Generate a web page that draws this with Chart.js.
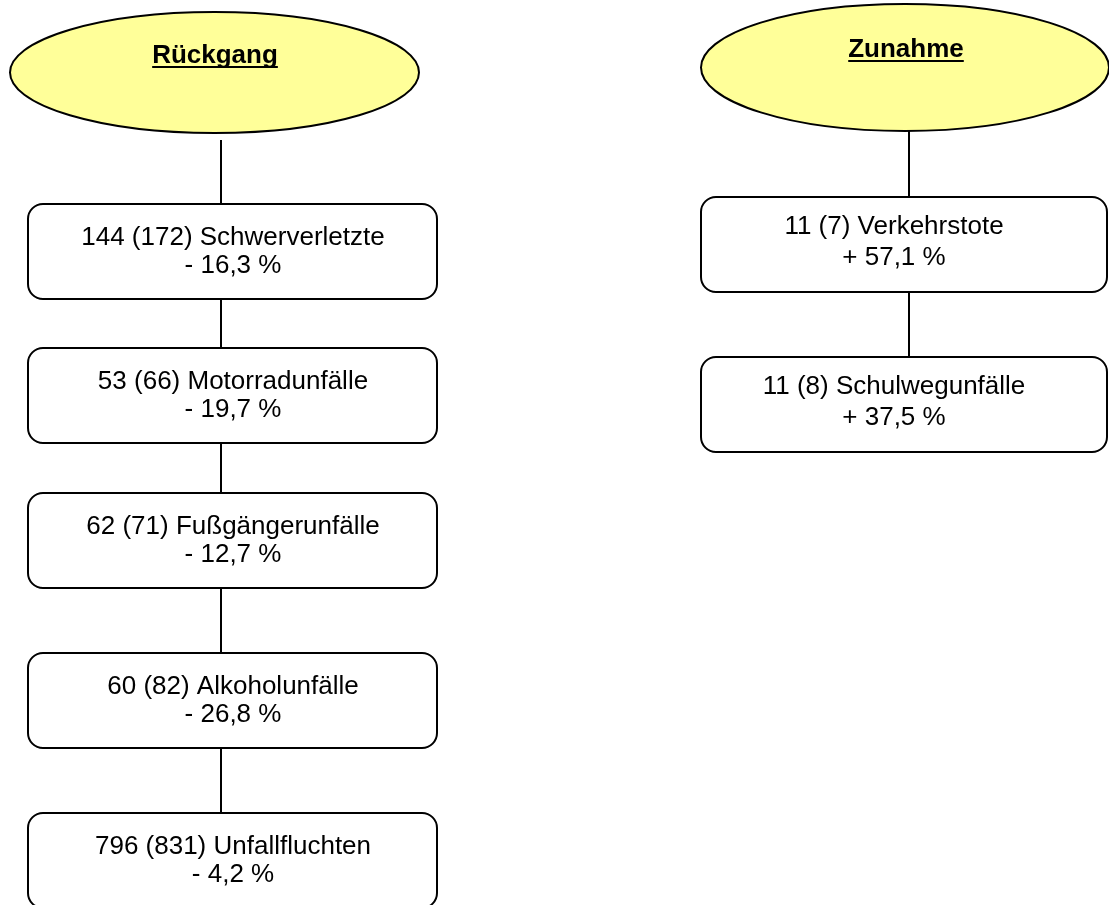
<!DOCTYPE html>
<html>
<head>
<meta charset="utf-8">
<script src="https://cdn.jsdelivr.net/npm/chart.js@4/dist/chart.umd.min.js"></script>
<style>
  html, body { margin: 0; padding: 0; background: #fff; }
  #wrap { width: 1109px; height: 905px; position: relative; }
</style>
</head>
<body>
<div id="wrap"><canvas id="flowChart"></canvas></div>
<script>
// values
const leftTitle = 'Rückgang';
const rightTitle = 'Zunahme';
const leftLabels = ['Schwerverletzte', 'Motorradunfälle', 'Fußgängerunfälle', 'Alkoholunfälle', 'Unfallfluchten'];
const leftCurrent = [144, 53, 62, 60, 796];
const leftPrevious = [172, 66, 71, 82, 831];
const leftChange = ['- 16,3 %', '- 19,7 %', '- 12,7 %', '- 26,8 %', '- 4,2 %'];
const rightLabels = ['Verkehrstote', 'Schulwegunfälle'];
const rightCurrent = [11, 11];
const rightPrevious = [7, 8];
const rightChange = ['+ 57,1 %', '+ 37,5 %'];

// layout (in the 1109 x 905 coordinate space of the hidden scales)
const columns = [
    {
        title: leftTitle, labels: leftLabels, current: leftCurrent, previous: leftPrevious, change: leftChange,
        ellipse: { cx: 214.5, cy: 72.5, rx: 204.5, ry: 60.5 }, titleX: 215, titleBase: 63,
        lineX: 221, lineStart: 140, boxLeft: 28, boxRight: 437, boxTops: [204, 348, 493, 653, 813], boxH: 95,
        textX: 233, line1: 41, line2: 69
    },
    {
        title: rightTitle, labels: rightLabels, current: rightCurrent, previous: rightPrevious, change: rightChange,
        ellipse: { cx: 905, cy: 67.5, rx: 204, ry: 63.5 }, titleX: 906, titleBase: 57,
        lineX: 909, lineStart: 131, boxLeft: 701, boxRight: 1107, boxTops: [197, 357], boxH: 95,
        textX: 894, line1: 37, line2: 68
    }
];

const FONT = '"Liberation Sans", Arial, sans-serif';

// connector segments as line datasets
const connectors = [];
columns.forEach(col => {
    let from = col.lineStart;
    col.boxTops.forEach(top => {
        connectors.push({
            type: 'line',
            data: [{ x: col.lineX, y: from }, { x: col.lineX, y: top }],
            borderColor: '#000',
            borderWidth: 2,
            pointRadius: 0,
            showLine: true
        });
        from = top + col.boxH;
    });
});

const nodesPlugin = {
    id: 'nodes',
    afterDatasetsDraw(chart) {
        const ctx = chart.ctx;
        const xs = chart.scales.x, ys = chart.scales.y;
        const px = v => xs.getPixelForValue(v);
        const py = v => ys.getPixelForValue(v);
        ctx.save();
        columns.forEach(col => {
            // title ellipse
            const e = col.ellipse;
            ctx.beginPath();
            ctx.ellipse(px(e.cx), py(e.cy), px(e.cx + e.rx) - px(e.cx), py(e.cy + e.ry) - py(e.cy), 0, 0, Math.PI * 2);
            ctx.fillStyle = '#FFFF99';
            ctx.fill();
            ctx.lineWidth = 2;
            ctx.strokeStyle = '#000';
            ctx.stroke();

            ctx.fillStyle = '#000';
            ctx.font = 'bold 26px ' + FONT;
            ctx.textAlign = 'center';
            ctx.textBaseline = 'alphabetic';
            ctx.fillText(col.title, px(col.titleX), py(col.titleBase));
            const w = ctx.measureText(col.title).width;
            ctx.fillRect(px(col.titleX) - w / 2, py(col.titleBase) + 3, w, 2);

            // boxes
            ctx.font = '26px ' + FONT;
            col.boxTops.forEach((top, i) => {
                const x0 = px(col.boxLeft), x1 = px(col.boxRight);
                const y0 = py(top), y1 = py(top + col.boxH);
                ctx.beginPath();
                ctx.roundRect(x0, y0, x1 - x0, y1 - y0, 15);
                ctx.fillStyle = '#fff';
                ctx.fill();
                ctx.lineWidth = 2;
                ctx.strokeStyle = '#000';
                ctx.stroke();
                ctx.fillStyle = '#000';
                ctx.fillText(`${col.current[i]} (${col.previous[i]}) ${col.labels[i]}`, px(col.textX), py(top + col.line1));
                ctx.fillText(col.change[i], px(col.textX), py(top + col.line2));
            });
        });
        ctx.restore();
    }
};

new Chart(document.getElementById('flowChart'), {
    type: 'scatter',
    data: { datasets: connectors },
    options: {
        responsive: true,
        maintainAspectRatio: false,
        animation: false,
        layout: { padding: 0 },
        plugins: { legend: { display: false }, tooltip: { enabled: false } },
        scales: {
            x: { type: 'linear', min: 0, max: 1109, display: false },
            y: { type: 'linear', min: 0, max: 905, reverse: true, display: false }
        }
    },
    plugins: [nodesPlugin]
});
</script>
</body>
</html>
